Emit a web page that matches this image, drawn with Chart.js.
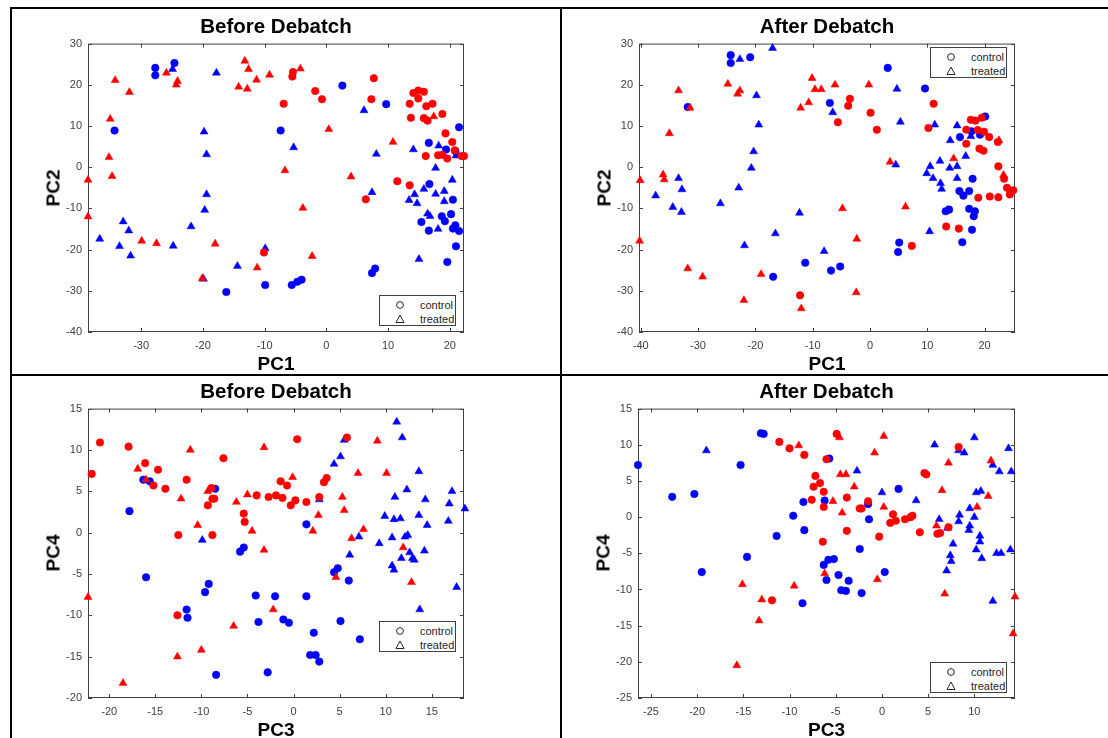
<!DOCTYPE html>
<html>
<head>
<meta charset="utf-8">
<title>Before / After Debatch</title>
<script src="https://cdn.jsdelivr.net/npm/chart.js@4.4.1/dist/chart.umd.min.js"></script>
<style>
  html, body { margin: 0; padding: 0; background: #fff; }
  body { position: relative; width: 1108px; height: 738px; overflow: hidden;
         font-family: "Liberation Sans", Arial, Helvetica, sans-serif; }
  canvas { position: absolute; }
  .rule { position: absolute; background: #000; }
  .lbl { position: absolute; font-weight: bold; font-size: 19px; color: #000; white-space: nowrap;
         transform: translate(-50%, -50%); line-height: 1; }
  .ttl { font-size: 20.5px; }
  .ylbl { transform: translate(-50%, -50%) rotate(-90deg); }
  .legend { position: absolute; width: 75px; height: 29px; border: 1px solid #404040; background: #fff;
            font-size: 11px; color: #262626; }
  .legend svg { position: absolute; left: 15px; }
  .legend span { position: absolute; left: 40px; line-height: 1; }
</style>
</head>
<body>

<!-- table borders -->
<div class="rule" style="left:10px;top:7px;width:1098px;height:2px"></div>
<div class="rule" style="left:10px;top:7px;width:2px;height:731px"></div>
<div class="rule" style="left:560px;top:7px;width:2px;height:731px"></div>
<div class="rule" style="left:10px;top:374px;width:1098px;height:2px"></div>

<script>
// Labels
const titles = ["Before Debatch", "After Debatch"];
const groupNames = ["control", "treated"];

// Tick labels
const pc2Ticks = [-40, -30, -20, -10, 0, 10, 20, 30];
const b12XTicks = [-30, -20, -10, 0, 10, 20];
const a12XTicks = [-40, -30, -20, -10, 0, 10, 20];
const b34XTicks = [-20, -15, -10, -5, 0, 5, 10, 15];
const b34YTicks = [-20, -15, -10, -5, 0, 5, 10, 15];
const a34XTicks = [-25, -20, -15, -10, -5, 0, 5, 10];
const a34YTicks = [-25, -20, -15, -10, -5, 0, 5, 10, 15];

// Axis limits
const b12XRange = [-38.6, 22.3], pc2Range = [-40, 30];
const a12XRange = [-40.3, 25.3];
const b34XRange = [-22.3, 18.5], b34YRange = [-20, 15];
const a34XRange = [-26.4, 14.4], a34YRange = [-25, 15];

// Before Debatch, PC1 vs PC2
const b12RedCtrl = [[-10.1,-20.7],[-5.4,23.1],[-5.5,22.0],[-1.8,18.5],[-0.7,16.5],[-6.9,15.4],[7.7,21.6],[7.3,16.5],
  [11.5,-3.4],[13.5,-4.4],[6.4,-7.8],[14.1,18.0],[14.9,18.6],[15.8,18.3],[14.9,16.7],[13.5,15.4],[16.2,14.8],[17.2,15.4],
  [18.8,12.9],[13.7,12.0],[15.8,11.9],[16.4,11.3],[19.3,8.2],[20.4,6.1],[20.8,4.1],[16.1,2.7],[18.1,2.9],[18.8,3.0],
  [19.6,2.1],[21.9,2.7],[22.3,2.7]];
const b12RedTreat = [[-38.6,-3.1],[-38.6,-12.0],[-34.2,21.1],[-31.9,18.2],[-35.0,11.7],[-35.2,2.4],[-34.7,-2.2],
  [-29.9,-17.9],[-27.5,-18.5],[-25.9,22.9],[-24.1,20.9],[-24.3,20.0],[-13.2,25.8],[-12.6,23.8],[-14.2,19.5],[-12.8,19.0],
  [-11.3,21.2],[-9.2,22.4],[-18.0,-18.6],[-11.2,-24.4],[-20.1,-27.0],[-4.2,23.9],[0.4,9.2],[-6.7,-0.8],[4.0,-2.3],
  [-3.8,-9.9],[-2.3,-21.6],[10.8,6.1],[17.4,12.3]];
const b12BlueCtrl = [[-27.7,24.1],[-27.7,22.3],[-24.6,25.3],[-34.3,8.9],[-9.9,-28.6],[-16.2,-30.3],[-7.4,8.9],[2.6,19.8],
  [9.7,15.3],[21.5,9.7],[16.6,5.9],[19.4,4.3],[20.9,3.9],[16.7,-4.1],[20.5,-7.9],[15.4,-13.3],[16.6,-15.4],[18.7,-11.9],
  [19.2,-13.1],[20.2,-11.4],[20.5,-14.9],[20.9,-14.1],[21.5,-15.5],[21.0,-19.2],[19.6,-23.0],[7.4,-25.7],[7.9,-24.6],
  [-5.6,-28.6],[-4.7,-27.8],[-4.0,-27.3]];
const b12BlueTreat = [[-24.9,23.8],[-17.8,22.9],[-19.8,8.6],[-19.4,3.1],[-19.4,-6.6],[-19.7,-10.4],[-21.9,-14.4],
  [-36.7,-17.4],[-32.9,-13.2],[-32.0,-15.4],[-33.5,-19.2],[-31.7,-21.5],[-24.8,-19.1],[-9.9,-19.7],[-19.9,-27.1],
  [-14.4,-24.0],[6.1,13.8],[-5.3,4.8],[8.1,3.2],[14.1,4.3],[18.2,5.2],[21.0,2.8],[17.7,-0.2],[20.4,-3.1],[15.8,-5.3],
  [14.3,-6.6],[13.4,-8.0],[14.7,-8.8],[17.7,-6.5],[19.1,-5.8],[19.1,-8.3],[7.4,-6.1],[16.4,-11.3],[16.8,-11.9],
  [18.1,-15.0],[15.0,-22.3]];

// After Debatch, PC1 vs PC2
const a12RedCtrl = [[-12.2,-31.1],[-3.5,16.6],[-3.8,14.9],[-5.6,10.9],[0.1,13.2],[1.2,9.1],[11.1,15.4],[10.2,9.5],
  [7.3,-19.1],[13.3,-14.4],[15.5,-14.9],[17.6,11.5],[18.4,11.3],[19.5,12.0],[16.8,9.1],[18.8,9.0],[19.9,8.6],[20.8,7.3],
  [16.8,5.7],[19.1,4.5],[19.8,4.0],[22.3,6.1],[22.4,0.2],[23.4,-2.8],[23.9,-5.0],[24.4,-6.6],[25.0,-5.6],[18.9,-7.4],
  [20.9,-7.1],[22.4,-7.3]];
const a12RedTreat = [[-40.2,-17.9],[-40.1,-3.2],[-36.1,-1.8],[-35.9,-3.0],[-35.0,8.2],[-33.4,18.6],[-31.4,14.4],
  [-31.8,-24.6],[-29.2,-26.6],[-24.8,20.2],[-23.1,17.8],[-22.7,18.6],[-22.0,-32.3],[-19.0,-26.0],[-12.1,14.4],
  [-10.7,15.7],[-10.1,21.6],[-9.6,18.9],[-8.5,18.9],[-12.0,-34.3],[-6.1,20.0],[-0.2,20.0],[3.5,1.3],[-4.8,-10.0],
  [6.2,-9.6],[-2.3,-17.4],[-2.4,-30.4],[14.6,2.1],[22.5,6.5],[23.3,-1.9]];
const a12BlueCtrl = [[-24.3,27.2],[-24.3,25.3],[-20.9,26.7],[-31.8,14.6],[-11.3,-23.2],[-16.9,-26.6],[-6.8,-25.1],
  [-7.0,15.6],[-5.2,-24.1],[3.1,24.1],[9.6,19.1],[20.1,12.3],[15.7,7.3],[17.7,8.7],[19.2,7.9],[17.9,-2.8],[15.6,-5.8],
  [16.3,-6.9],[17.3,-5.8],[13.2,-10.7],[13.8,-10.3],[17.3,-10.1],[18.3,-10.7],[18.1,-11.9],[17.8,-15.2],[16.1,-18.2],
  [5.1,-18.3],[4.9,-20.6]];
const a12BlueTreat = [[-22.7,26.2],[-17.0,28.9],[-19.8,17.4],[-19.4,10.3],[-20.3,3.8],[-20.7,-0.2],[-22.9,-5.0],
  [-26.1,-8.8],[-33.4,-2.7],[-32.8,-5.4],[-34.4,-9.7],[-32.9,-10.9],[-37.4,-6.9],[-21.9,-19.0],[-16.5,-16.1],
  [-12.3,-11.1],[-8.0,-20.4],[4.7,19.0],[-6.5,13.3],[5.3,11.0],[11.3,10.3],[15.2,10.1],[17.6,7.5],[14.0,6.5],[16.7,2.7],
  [12.2,1.5],[4.5,0.6],[10.5,0.2],[13.9,-0.2],[15.2,0.2],[9.9,-1.5],[11.0,-2.7],[15.2,-2.7],[12.3,-3.9],[12.5,-5.3],
  [13.5,-10.4],[10.4,-15.6]];

// Before Debatch, PC3 vs PC4
const b34RedCtrl = [[-21.9,7.1],[-21.0,10.9],[-17.9,10.4],[-16.1,8.4],[-15.2,5.7],[-14.7,7.6],[-13.9,5.3],[-11.6,6.4],
  [-12.5,-0.3],[-12.6,-10.0],[-7.6,9.0],[-9.3,3.3],[-8.8,4.1],[-8.6,4.1],[-8.8,-0.3],[-8.9,5.4],[-5.4,2.3],[-5.3,1.3],
  [-4.0,4.5],[-2.7,4.3],[-1.9,4.5],[-1.4,6.2],[-0.7,5.7],[-1.2,4.2],[-0.3,3.3],[0.2,3.9],[1.4,3.7],[0.4,11.3],[3.3,6.1],
  [3.6,6.6],[2.8,4.3],[5.8,11.5]];
const b34RedTreat = [[-22.3,-7.8],[-18.5,-18.2],[-16.9,7.7],[-16.0,6.4],[-12.2,4.1],[-12.6,-15.0],[-11.2,10.0],[-10.4,0.9],
  [-10.0,-14.2],[-9.3,5.0],[-6.2,3.7],[-5.0,4.6],[-4.5,0.2],[-3.2,10.3],[-3.2,-2.1],[-2.2,-9.3],[-6.5,-11.3],[-0.1,6.7],
  [2.1,0.2],[2.7,2.1],[5.3,4.3],[5.5,2.7],[4.6,-5.4],[6.3,-0.7],[7.0,7.2],[7.6,0.4],[9.1,11.1],[10.1,7.2],[11.9,-1.8],
  [12.8,-6.0]];
const b34BlueCtrl = [[-16.3,6.4],[-15.6,6.2],[-17.8,2.6],[-16.0,-5.4],[-8.5,5.3],[-5.8,-2.3],[-5.4,-1.8],[-9.2,-6.2],
  [-9.6,-7.2],[-11.6,-9.3],[-11.5,-10.3],[-8.4,-17.2],[-4.1,-7.6],[-2.0,-7.7],[-3.8,-10.8],[-2.8,-16.9],[1.4,1.0],
  [4.4,-4.8],[4.8,-4.3],[6.0,-5.8],[1.4,-7.7],[-1.1,-10.5],[-0.5,-10.9],[5.1,-10.7],[2.2,-12.1],[1.8,-14.8],[2.4,-14.8],
  [2.8,-15.6],[7.2,-12.9]];
const b34BlueTreat = [[-9.9,-0.9],[11.2,13.4],[11.8,11.5],[5.5,11.2],[5.1,9.2],[4.4,8.3],[2.8,4.0],[13.6,7.4],[12.3,5.2],
  [11.0,4.3],[14.3,4.0],[17.2,5.0],[16.9,3.5],[18.6,2.9],[9.9,2.0],[10.9,1.6],[11.6,1.7],[13.6,2.1],[14.5,0.9],[16.8,1.4],
  [7.1,-0.5],[9.3,-1.3],[10.7,-0.6],[12.1,-0.5],[12.4,-0.3],[6.1,-2.7],[11.7,-3.1],[12.6,-2.4],[12.9,-3.1],[13.1,-3.3],
  [14.2,-2.2],[10.7,-4.0],[10.9,-4.5],[17.7,-6.6],[13.7,-9.3]];

// After Debatch, PC3 vs PC4
const a34RedCtrl = [[-11.1,10.4],[-10.0,9.5],[-8.4,8.6],[-6.0,8.0],[-7.2,5.7],[-7.4,4.2],[-6.7,4.7],[-6.3,3.5],[-7.6,2.4],
  [-6.3,1.4],[-6.4,-3.4],[-11.9,-11.5],[-4.9,11.5],[-3.8,2.7],[-3.8,-1.9],[-2.4,1.2],[-2.2,1.2],[-1.5,2.2],[-0.3,-2.7],
  [1.2,0.4],[0.9,-0.8],[1.5,-0.5],[2.5,-0.3],[3.1,0.0],[3.3,0.2],[4.1,-2.1],[4.6,6.1],[4.8,5.9],[8.3,9.7],[7.2,-1.4],
  [6.0,-2.3],[6.3,-2.2]];
const a34RedTreat = [[-9.0,9.9],[-15.1,-9.3],[-13.0,-11.4],[-13.3,-14.3],[-15.7,-20.5],[-9.5,-9.5],[-6.2,-7.8],[-4.6,11.0],
  [0.2,11.2],[-0.8,8.9],[-4.5,5.9],[-3.9,5.9],[-3.0,4.2],[-5.3,2.2],[-4.3,0.6],[0.2,1.4],[-0.5,-8.6],[7.2,7.5],[6.5,3.7],
  [5.9,-1.2],[11.8,7.8],[11.5,2.9],[10.3,1.4],[6.8,-10.6],[14.4,-11.0],[14.2,-16.1]];
const a34BlueCtrl = [[-26.4,7.2],[-22.7,2.8],[-20.3,3.2],[-19.5,-7.6],[-15.3,7.2],[-14.6,-5.5],[-13.1,11.6],[-12.8,11.5],
  [-11.4,-2.6],[-9.6,0.2],[-8.5,2.1],[-8.4,-1.8],[-8.6,-11.9],[-6.2,2.3],[-6.3,-6.6],[-6.0,-8.7],[-5.8,-5.9],[-5.7,8.1],
  [-1.5,1.8],[-1.4,-0.3],[1.8,3.9],[-2.4,-4.4],[-5.2,-5.8],[-4.7,-8.0],[-3.6,-8.8],[-4.4,-10.1],[-3.9,-10.2],[-2.2,-10.5],
  [0.3,-7.6]];
const a34BlueTreat = [[-19.0,9.2],[-2.7,6.4],[0.0,3.4],[3.7,2.3],[5.7,10.0],[10.0,11.0],[8.3,9.2],[8.9,8.9],[13.7,9.5],
  [12.0,7.2],[12.7,6.3],[14.0,6.3],[10.2,3.4],[10.7,3.6],[9.5,1.2],[8.4,0.3],[10.0,0.0],[6.2,-0.3],[7.1,-1.5],[8.3,-0.6],
  [9.5,-1.2],[9.4,-1.8],[10.6,-2.6],[10.6,-3.4],[10.2,-4.5],[7.7,-3.7],[7.4,-5.3],[7.5,-6.1],[10.8,-5.7],[7.0,-7.4],
  [12.4,-5.0],[12.9,-5.0],[13.9,-4.5],[12.0,-11.6]];

// Estilos
const FONT = '"Liberation Sans", Arial, Helvetica, sans-serif';
const RED = "#ff0000", BLUE = "#0000ff";
const AXIS = "#404040", TICK = "#404040";

// Caja de ejes con marcas hacia dentro en los cuatro lados (estilo MATLAB)
const boxPlugin = {
  id: "box",
  beforeDatasetsDraw(chart) {
    const { ctx, chartArea: a, scales: { x, y } } = chart;
    ctx.save();
    ctx.strokeStyle = AXIS;
    ctx.lineWidth = 1;
    ctx.strokeRect(a.left + 0.5, a.top + 0.5, a.right - a.left - 1, a.bottom - a.top - 1);
    ctx.beginPath();
    x.ticks.forEach(t => {
      const px = Math.round(x.getPixelForValue(t.value)) + 0.5;
      ctx.moveTo(px, a.bottom); ctx.lineTo(px, a.bottom - 4);
      ctx.moveTo(px, a.top); ctx.lineTo(px, a.top + 4);
    });
    y.ticks.forEach(t => {
      const py = Math.round(y.getPixelForValue(t.value)) + 0.5;
      ctx.moveTo(a.left, py); ctx.lineTo(a.left + 4, py);
      ctx.moveTo(a.right, py); ctx.lineTo(a.right - 4, py);
    });
    ctx.stroke();
    ctx.restore();
  }
};

function dataset(points, color, shape) {
  return {
    data: points.map(p => ({ x: p[0], y: p[1] })),
    pointStyle: shape,
    pointRadius: shape === "triangle" ? 4.6 : 3.8,
    backgroundColor: color,
    borderColor: color,
    borderWidth: 0.5,
    showLine: false,
    clip: false
  };
}

function addText(text, cx, cy, cls) {
  const d = document.createElement("div");
  d.className = "lbl " + (cls || "");
  d.textContent = text;
  d.style.left = cx + "px";
  d.style.top = cy + "px";
  document.body.appendChild(d);
}

function addLegend(left, top) {
  const d = document.createElement("div");
  d.className = "legend";
  d.style.left = left + "px";
  d.style.top = top + "px";
  d.innerHTML =
    '<svg width="10" height="10" style="top:4px"><circle cx="5" cy="5" r="3.4" fill="none" stroke="#262626" stroke-width="1"/></svg>' +
    '<span style="top:4px">' + groupNames[0] + '</span>' +
    '<svg width="10" height="10" style="top:18px"><polygon points="5,1 9,8.5 1,8.5" fill="none" stroke="#262626" stroke-width="1"/></svg>' +
    '<span style="top:18px">' + groupNames[1] + '</span>';
  document.body.appendChild(d);
}

function panel(cfg) {
  const W = cfg.R - cfg.L + 84, H = cfg.B - cfg.T + 42;
  const cv = document.createElement("canvas");
  cv.width = W; cv.height = H;
  cv.style.left = (cfg.L - 60) + "px";
  cv.style.top = (cfg.T - 12) + "px";
  cv.style.width = W + "px";
  cv.style.height = H + "px";
  document.body.appendChild(cv);

  const tickFont = { family: FONT, size: 11 };
  new Chart(cv, {
    type: "scatter",
    data: {
      datasets: [
        dataset(cfg.series[0], RED, "circle"),
        dataset(cfg.series[1], RED, "triangle"),
        dataset(cfg.series[2], BLUE, "circle"),
        dataset(cfg.series[3], BLUE, "triangle")
      ]
    },
    options: {
      responsive: false,
      animation: false,
      devicePixelRatio: 1,
      layout: { padding: { top: 12, right: 24, left: 0, bottom: 0 } },
      plugins: { legend: { display: false }, tooltip: { enabled: false } },
      scales: {
        x: {
          type: "linear", min: cfg.xRange[0], max: cfg.xRange[1],
          afterBuildTicks: s => { s.ticks = cfg.xTicks.map(v => ({ value: v })); },
          afterFit: s => { s.height = 30; },
          grid: { display: false, drawTicks: false },
          border: { display: false },
          ticks: { padding: 7, color: TICK, font: tickFont, maxRotation: 0, autoSkip: false }
        },
        y: {
          type: "linear", min: cfg.yRange[0], max: cfg.yRange[1],
          afterBuildTicks: s => { s.ticks = cfg.yTicks.map(v => ({ value: v })); },
          afterFit: s => { s.width = 60; },
          grid: { display: false, drawTicks: false },
          border: { display: false },
          ticks: { padding: 6, color: TICK, font: tickFont, autoSkip: false }
        }
      }
    },
    plugins: [boxPlugin]
  });

  const cx = (cfg.L + cfg.R) / 2, cy = (cfg.T + cfg.B) / 2;
  addText(cfg.title, cx, cfg.T - 17, "ttl");
  addText(cfg.xName, cx, cfg.B + 31);
  addText(cfg.yName, cfg.L - 35, cy, "ylbl");
  addLegend(cfg.legend[0], cfg.legend[1]);
}

panel({ L: 88, T: 43, R: 464, B: 332, title: titles[0], xName: "PC1", yName: "PC2",
  xRange: b12XRange, yRange: pc2Range, xTicks: b12XTicks, yTicks: pc2Ticks,
  series: [b12RedCtrl, b12RedTreat, b12BlueCtrl, b12BlueTreat], legend: [379, 295] });
panel({ L: 639, T: 43, R: 1015, B: 332, title: titles[1], xName: "PC1", yName: "PC2",
  xRange: a12XRange, yRange: pc2Range, xTicks: a12XTicks, yTicks: pc2Ticks,
  series: [a12RedCtrl, a12RedTreat, a12BlueCtrl, a12BlueTreat], legend: [930, 47] });
panel({ L: 88, T: 408, R: 464, B: 698, title: titles[0], xName: "PC3", yName: "PC4",
  xRange: b34XRange, yRange: b34YRange, xTicks: b34XTicks, yTicks: b34YTicks,
  series: [b34RedCtrl, b34RedTreat, b34BlueCtrl, b34BlueTreat], legend: [379, 621] });
panel({ L: 638, T: 408, R: 1015, B: 698, title: titles[1], xName: "PC3", yName: "PC4",
  xRange: a34XRange, yRange: a34YRange, xTicks: a34XTicks, yTicks: a34YTicks,
  series: [a34RedCtrl, a34RedTreat, a34BlueCtrl, a34BlueTreat], legend: [930, 662] });
</script>
</body>
</html>
